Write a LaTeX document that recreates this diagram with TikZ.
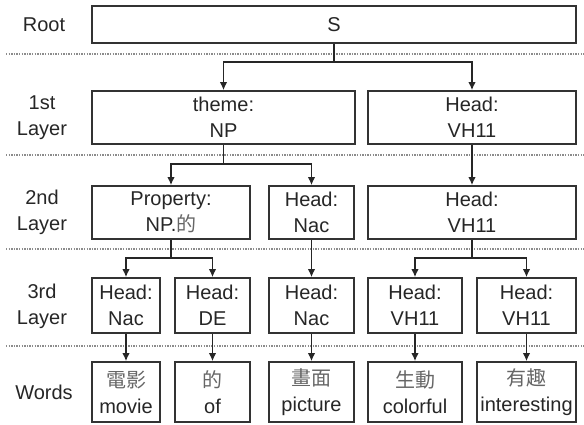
\documentclass[tikz,border=0pt]{standalone}
\usepackage{fontspec}
\setmainfont{Liberation Sans}
\newfontfamily\cjk{Noto Sans CJK TC}
\usetikzlibrary{arrows.meta}
\begin{document}
\begin{tikzpicture}[x=1pt,y=-1pt,
  every node/.style={font=\fontsize{20}{26}\selectfont, align=center, inner sep=0pt, text=black!85},
  box/.style={draw=black!80, line width=1.6pt, minimum height=53pt},
  arr/.style={draw=black!85, line width=1.6pt, -{Latex[length=8pt,width=7.5pt]}},
  conn/.style={draw=black!85, line width=1.6pt},
  sep/.style={draw=black!45, line width=1.4pt, dash pattern=on 1.4pt off 1.2pt},
  cjkt/.style={},
  lab/.style={}]
\newcommand{\zh}[1]{{\cjk\color{black!60}#1}}
\useasboundingbox (0,0) rectangle (584,425);
% separators
\foreach \yy in {54,155,249,346} \draw[sep] (6,\yy) -- (584,\yy);
% labels
\node[lab] (lroot) at (44,24.5) {Root};
\node[lab] (l1) at (42,117.5) {1st\\Layer};
\node[lab] (l2) at (42,212.5) {2nd\\Layer};
\node[lab] (l3) at (42,306) {3rd\\Layer};
\node[lab] (lw) at (44,392) {Words};
% boxes
\node[box, minimum width=484pt, minimum height=37pt] (root) at (334,24.5) {S};
\node[box, minimum width=263pt] (theme) at (223.5,117.5) {theme:\\NP};
\node[box, minimum width=208pt] (h1) at (472,117.5) {Head:\\VH11};
\node[box, minimum width=158pt] (prop) at (171,212.5) {Property:\\NP.\zh{的}};
\node[box, minimum width=85pt] (nac2) at (311.5,212.5) {Head:\\Nac};
\node[box, minimum width=208pt] (vh2) at (472,212.5) {Head:\\VH11};
\node[box, minimum width=68pt, minimum height=55pt] (b1) at (126,305.5) {Head:\\Nac};
\node[box, minimum width=75pt, minimum height=55pt] (b2) at (212.5,305.5) {Head:\\DE};
\node[box, minimum width=85pt, minimum height=55pt] (b3) at (311.5,305.5) {Head:\\Nac};
\node[box, minimum width=94pt, minimum height=55pt] (b4) at (415,305.5) {Head:\\VH11};
\node[box, minimum width=99pt, minimum height=55pt] (b5) at (526.5,305.5) {Head:\\VH11};
\node[box, minimum width=68pt, minimum height=60pt] (w1) at (126,392) {\zh{電影}\\movie};
\node[box, minimum width=75pt, minimum height=60pt] (w2) at (212.5,392) {\zh{的}\\of};
\node[box, minimum width=85pt, minimum height=60pt] (w3) at (311.5,392) {\zh{畫面}\\picture};
\node[box, minimum width=94pt, minimum height=60pt] (w4) at (415,392) {\zh{生動}\\colorful};
\node[box, minimum width=99pt, minimum height=60pt] (w5) at (526.5,392) {\zh{有趣}\\interesting};
% connectors
\coordinate (j0) at (334,62);
\draw[conn] (root.south) -- (j0);
\draw[arr] (j0) -| (theme.north);
\draw[arr] (j0) -| (h1.north);
\coordinate (j1) at (223.5,164);
\draw[conn] (theme.south) -- (j1);
\draw[arr] (j1) -| (prop.north);
\draw[arr] (j1) -| (nac2.north);
\draw[arr] (h1.south) -- (vh2.north);
\coordinate (j2) at (171,258);
\draw[conn] (prop.south) -- (j2);
\draw[arr] (j2) -| (b1.north);
\draw[arr] (j2) -| (b2.north);
\draw[arr] (nac2.south) -- (b3.north);
\coordinate (j3) at (472,258);
\draw[conn] (vh2.south) -- (j3);
\draw[arr] (j3) -| (b4.north);
\draw[arr] (j3) -| (b5.north);
\draw[arr] (b1.south) -- (w1.north);
\draw[arr] (b2.south) -- (w2.north);
\draw[arr] (b3.south) -- (w3.north);
\draw[arr] (b4.south) -- (w4.north);
\draw[arr] (b5.south) -- (w5.north);
\end{tikzpicture}
\end{document}
